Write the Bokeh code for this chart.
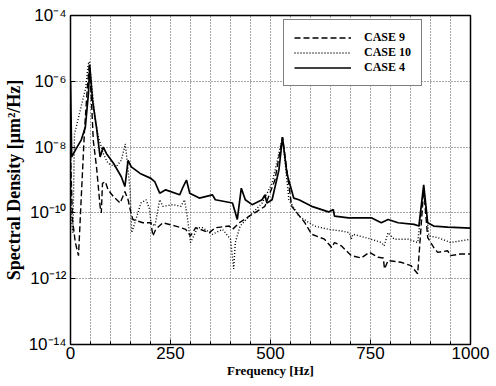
from bokeh.plotting import figure
from bokeh.models import FixedTicker, CustomJSTickFormatter, Legend, LegendItem
from bokeh.embed import file_html
from bokeh.resources import INLINE

# CASE 4 (solid)
case4_freq = [0, 3, 15, 27, 37, 45, 48, 55, 65, 74, 82, 90, 107, 127, 136, 144, 152, 174, 201, 211,
              223, 238, 273, 280, 290, 298, 322, 355, 362, 405, 417, 427, 437, 454, 479, 486, 491,
              504, 521, 530, 541, 558, 571, 603, 645, 657, 660, 695, 727, 752, 777, 794, 819, 859,
              871, 883, 893, 908, 943, 1000]
case4_exp = [-6.0, -8.3, -8.03, -7.78, -7.4, -6.35, -5.5, -6.57, -7.4, -8.3, -8.0, -8.2, -8.48, -8.9,
             -9.2, -8.4, -8.6, -8.8, -8.95, -9.06, -9.4, -9.3, -9.45, -9.25, -9.0, -9.4, -9.55, -9.45,
             -9.6, -9.7, -10.2, -9.25, -9.6, -9.75, -9.6, -9.45, -9.7, -9.6, -8.7, -7.7, -8.8, -9.55,
             -9.6, -9.8, -9.97, -9.9, -10.1, -10.15, -10.15, -10.15, -10.3, -10.2, -10.3, -10.35,
             -10.4, -9.15, -10.3, -10.4, -10.43, -10.46]

# CASE 9 (dashed)
case9_freq = [0, 5, 12, 20, 27, 35, 42, 47, 52, 57, 65, 74, 77, 80, 87, 94, 107, 124, 136, 144, 151,
              156, 181, 201, 206, 213, 231, 263, 288, 300, 313, 347, 362, 397, 405, 422, 447, 486,
              511, 530, 553, 586, 603, 635, 653, 660, 677, 702, 727, 747, 769, 782, 785, 794, 826,
              851, 868, 883, 893, 908, 918, 943, 950, 975, 1000]
case9_exp = [-8.2, -10.2, -10.9, -11.3, -9.5, -7.5, -6.2, -5.5, -6.5, -7.8, -8.6, -9.8, -10.0, -9.1,
             -9.05, -9.3, -9.5, -9.7, -9.35, -9.6, -10.0, -10.2, -10.3, -10.3, -10.7, -10.5, -10.3,
             -10.4, -10.5, -10.7, -10.45, -10.6, -10.45, -10.4, -10.5, -10.3, -10.1, -9.8, -9.0,
             -7.7, -9.8, -10.3, -10.65, -10.8, -11.05, -10.9, -11.0, -11.3, -11.37, -11.2, -11.35,
             -11.37, -11.7, -11.45, -11.5, -11.6, -11.85, -9.3, -10.75, -11.05, -11.2, -11.15,
             -11.3, -11.25, -11.25]

# CASE 10 (dotted)
case10_freq = [0, 2, 6, 10, 20, 30, 38, 44, 47, 52, 62, 70, 82, 94, 114, 127, 137, 144, 149, 153,
               161, 176, 189, 198, 201, 211, 223, 231, 256, 276, 285, 293, 300, 318, 330, 355, 380,
               400, 408, 412, 424, 447, 479, 504, 530, 546, 571, 610, 645, 677, 697, 702, 706, 744,
               777, 784, 794, 809, 844, 868, 883, 896, 918, 950, 1000]
case10_exp = [-7.2, -10.2, -10.6, -7.6, -7.1, -6.6, -6.2, -5.5, -5.4, -6.0, -7.2, -7.7, -8.2, -8.5,
              -8.6, -8.4, -7.9, -8.7, -9.3, -10.6, -10.3, -9.7, -9.6, -9.9, -10.3, -10.4, -9.6,
              -9.8, -9.75, -9.8, -9.6, -10.2, -10.9, -10.45, -10.45, -10.65, -10.5, -10.8, -11.7,
              -10.9, -10.4, -10.1, -9.7, -9.1, -7.7, -9.6, -10.1, -10.4, -10.5, -10.55, -10.6,
              -10.8, -10.65, -10.77, -10.9, -11.0, -10.6, -10.8, -10.8, -10.9, -9.25, -10.7,
              -10.75, -10.9, -10.8]

x_major = [0, 250, 500, 750, 1000]
y_major = [1e-14, 1e-12, 1e-10, 1e-8, 1e-6, 1e-4]

p = figure(width=496, height=386, x_range=(0, 1000), y_range=(1e-14, 1e-4),
           y_axis_type="log", output_backend="svg", toolbar_location=None,
           min_border_left=67, min_border_right=26, min_border_top=15, min_border_bottom=42)
p.background_fill_color = "white"
p.outline_line_color = "black"
p.outline_line_width = 1.5

r9 = p.line(case9_freq, [10.0 ** e for e in case9_exp], line_color="black",
            line_width=1.4, line_dash="6 3")
r10 = p.line(case10_freq, [10.0 ** e for e in case10_exp], line_color="black",
             line_width=1.4, line_dash="1 2")
r4 = p.line(case4_freq, [10.0 ** e for e in case4_exp], line_color="black", line_width=1.7)

p.xaxis.ticker = FixedTicker(ticks=x_major, minor_ticks=list(range(0, 1001, 50)))
p.yaxis.ticker = FixedTicker(ticks=y_major)
p.yaxis.formatter = CustomJSTickFormatter(code="""
const e = Math.round(Math.log10(tick));
const sup = {'-':'\u207b','0':'\u2070','1':'\u00b9','2':'\u00b2','3':'\u00b3','4':'\u2074',
             '5':'\u2075','6':'\u2076','7':'\u2077','8':'\u2078','9':'\u2079'};
return '10' + String(e).split('').map(c => sup[c]).join('');
""")

for ax in (p.xaxis[0], p.yaxis[0]):
    ax.major_tick_in = 5
    ax.major_tick_out = 0
    ax.minor_tick_in = 3
    ax.minor_tick_out = 0
    ax.axis_line_color = "black"
    ax.major_tick_line_color = "black"
    ax.minor_tick_line_color = "black"
    ax.major_label_text_font = "Liberation Sans"
    ax.major_label_text_font_size = "17px"
    ax.major_label_text_color = "black"
    ax.axis_label_text_font = "Liberation Serif"
    ax.axis_label_text_font_style = "bold"
    ax.axis_label_text_color = "black"

p.xaxis.axis_label = "Frequency [Hz]"
p.xaxis.axis_label_text_font_size = "13px"
p.xaxis.major_label_standoff = 2
p.xaxis.axis_label_standoff = 1
p.yaxis.axis_label = "Spectral Density [\u03bcm\u00b2/Hz]"
p.yaxis.axis_label_text_font_size = "18px"
p.yaxis.major_label_standoff = 4
p.yaxis.axis_label_standoff = 2

p.xgrid.ticker = FixedTicker(ticks=list(range(50, 1000, 50)))
p.ygrid.ticker = FixedTicker(ticks=[1e-12, 1e-10, 1e-8, 1e-6])
for g in (p.xgrid[0], p.ygrid[0]):
    g.grid_line_color = "#222222"
    g.grid_line_dash = "1 2"
    g.grid_line_width = 1
    g.grid_line_alpha = 0.8

legend = Legend(items=[LegendItem(label="CASE 9", renderers=[r9]),
                       LegendItem(label="CASE 10", renderers=[r10]),
                       LegendItem(label="CASE 4", renderers=[r4])],
                location=(213, 258))
legend.label_text_font = "Liberation Serif"
legend.label_text_font_style = "bold"
legend.label_text_font_size = "12px"
legend.label_text_color = "black"
legend.glyph_width = 57
legend.glyph_height = 13
legend.label_height = 13
legend.label_standoff = 13
legend.spacing = 0
legend.padding = 10
legend.margin = 0
legend.border_line_color = "black"
legend.border_line_width = 1.2
legend.background_fill_alpha = 1
p.add_layout(legend)

open("out.html", "w").write(file_html(p, INLINE))
